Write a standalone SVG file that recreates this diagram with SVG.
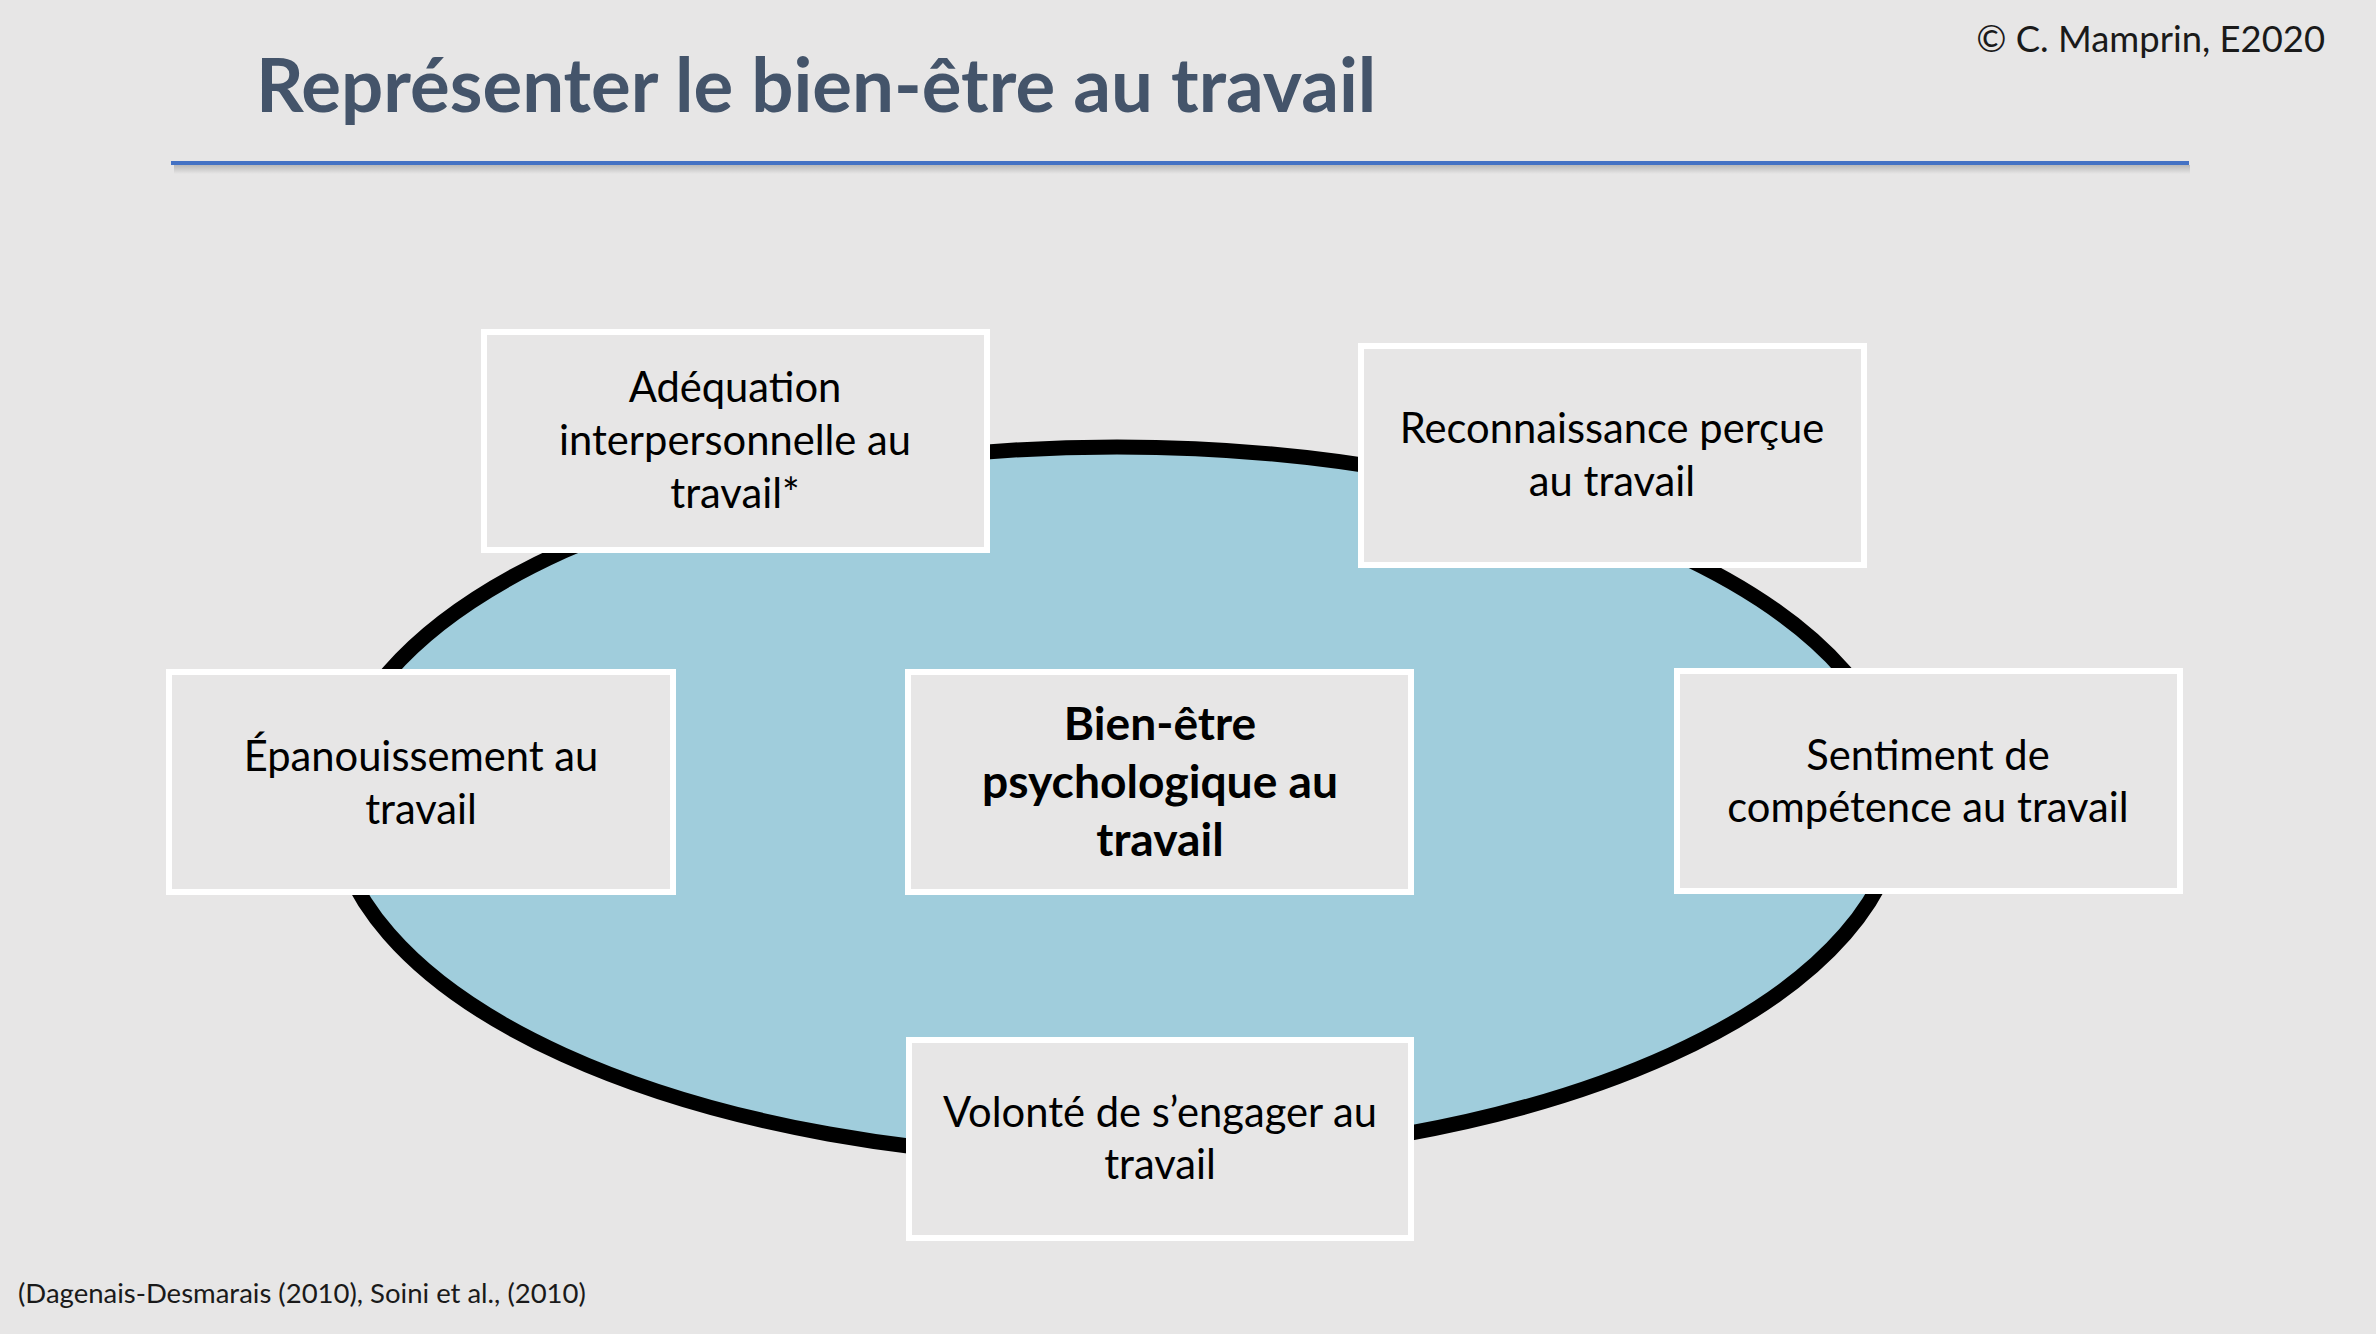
<svg xmlns="http://www.w3.org/2000/svg" width="2376" height="1334" viewBox="0 0 2376 1334">
  <defs>
    <style>
      .bg { fill: #E7E6E6; }
      .box { fill: #E7E6E6; stroke: #FFFFFF; stroke-width: 6; }
      .lbl { font-family: Lato, "Liberation Sans", sans-serif; font-size: 41.7px; fill: #000000; text-anchor: middle; }
      .main { font-family: Lato, "Liberation Sans", sans-serif; font-size: 46.2px; font-weight: bold; fill: #000000; text-anchor: middle; }
      .title { font-family: Lato, "Liberation Sans", sans-serif; font-size: 74.4px; font-weight: bold; fill: #44546A; }
      .small { font-family: Lato, "Liberation Sans", sans-serif; fill: #1A1A1A; }
    </style>
    <linearGradient id="shadow" x1="0" y1="0" x2="0" y2="1">
      <stop offset="0" stop-color="#B8B8B8"/>
      <stop offset="1" stop-color="#E7E6E6"/>
    </linearGradient>
  </defs>
  <rect class="bg" x="0" y="0" width="2376" height="1334"/>

  <g id="header">
    <text class="title" x="256" y="112">Représenter le bien-être au travail</text>
    <text class="small" x="2325" y="52" font-size="36.4" text-anchor="end">© C. Mamprin, E2020</text>
    <rect x="174" y="165" width="2016" height="9" fill="url(#shadow)"/>
    <rect x="171" y="161" width="2018" height="4" fill="#4472C4"/>
  </g>

  <g id="connectors">
    <ellipse id="ring" cx="1117" cy="803" rx="783" ry="356" fill="#A0CDDC" stroke="#000000" stroke-width="15"/>
  </g>

  <g id="node-adequation">
    <rect class="box" x="484" y="332" width="503" height="218"/>
    <text class="lbl" x="735" y="402">Adéquation</text>
    <text class="lbl" x="735" y="455">interpersonnelle au</text>
    <text class="lbl" x="735" y="508">travail*</text>
  </g>

  <g id="node-reconnaissance">
    <rect class="box" x="1361" y="346" width="503" height="219"/>
    <text class="lbl" x="1612" y="443">Reconnaissance perçue</text>
    <text class="lbl" x="1612" y="496">au travail</text>
  </g>

  <g id="node-epanouissement">
    <rect class="box" x="169" y="672" width="504" height="220"/>
    <text class="lbl" x="421" y="771">Épanouissement au</text>
    <text class="lbl" x="421" y="824">travail</text>
  </g>

  <g id="node-bienetre">
    <rect class="box" x="908" y="672" width="503" height="220"/>
    <text class="main" x="1160" y="740">Bien-être</text>
    <text class="main" x="1160" y="798">psychologique au</text>
    <text class="main" x="1160" y="856">travail</text>
  </g>

  <g id="node-sentiment">
    <rect class="box" x="1677" y="671" width="503" height="220"/>
    <text class="lbl" x="1928" y="770">Sentiment de</text>
    <text class="lbl" x="1928" y="822">compétence au travail</text>
  </g>

  <g id="node-volonte">
    <rect class="box" x="909" y="1040" width="502" height="198"/>
    <text class="lbl" x="1160" y="1127">Volonté de s’engager au</text>
    <text class="lbl" x="1160" y="1179">travail</text>
  </g>

  <g id="footer">
    <text class="small" x="18" y="1303" font-size="27.5">(Dagenais-Desmarais (2010), Soini et al., (2010)</text>
  </g>
</svg>
